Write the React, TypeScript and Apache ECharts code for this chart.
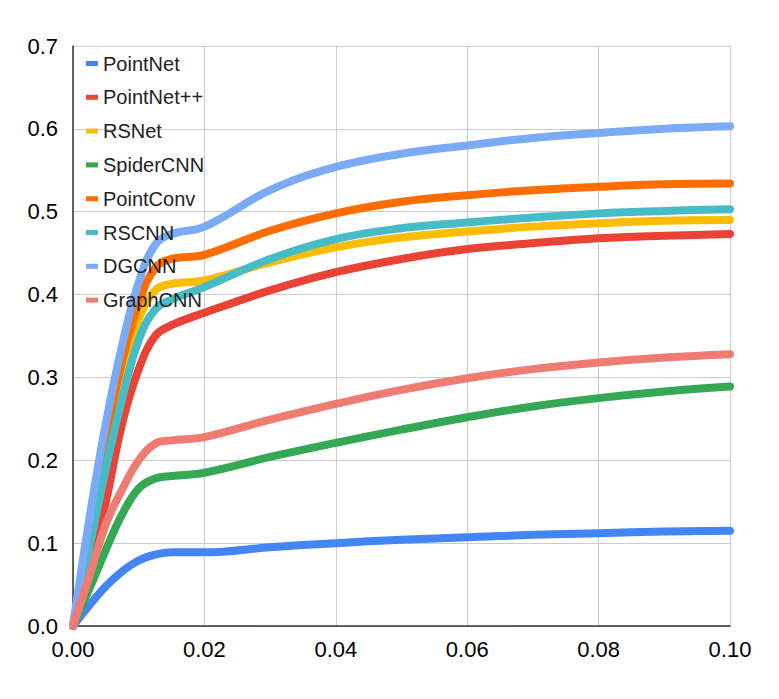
import React, { useEffect, useRef } from "react";
import * as echarts from "echarts";

const xValues = [0, 0.0025, 0.005, 0.0075, 0.01, 0.0125, 0.015, 0.02, 0.03, 0.04, 0.05, 0.06, 0.07, 0.08, 0.09, 0.1];

const seriesNames = ["PointNet", "PointNet++", "RSNet", "SpiderCNN", "PointConv", "RSCNN", "DGCNN", "GraphCNN"];
const seriesColors = ["#4285F4", "#EA4335", "#FBBC04", "#34A853", "#FF6D01", "#46BDC6", "#7BAAF7", "#F07B72"];

const pointNet = [0, 0.025, 0.048, 0.066, 0.079, 0.086, 0.089, 0.089, 0.095, 0.1, 0.104, 0.107, 0.11, 0.112, 0.114, 0.115];
const pointNetPP = [0, 0.07, 0.15, 0.245, 0.31, 0.35, 0.363, 0.378, 0.405, 0.427, 0.443, 0.455, 0.462, 0.468, 0.471, 0.473];
const rsNet = [0, 0.105, 0.21, 0.3, 0.37, 0.405, 0.413, 0.417, 0.439, 0.457, 0.469, 0.476, 0.482, 0.486, 0.489, 0.49];
const spiderCNN = [0, 0.045, 0.092, 0.135, 0.166, 0.178, 0.181, 0.185, 0.204, 0.221, 0.237, 0.252, 0.265, 0.275, 0.283, 0.289];
const pointConv = [0, 0.115, 0.225, 0.32, 0.39, 0.432, 0.443, 0.448, 0.477, 0.498, 0.512, 0.52, 0.526, 0.53, 0.533, 0.534];
const rsCNN = [0, 0.095, 0.19, 0.275, 0.345, 0.382, 0.394, 0.409, 0.443, 0.467, 0.48, 0.487, 0.493, 0.498, 0.501, 0.503];
const dgCNN = [0, 0.13, 0.245, 0.34, 0.415, 0.46, 0.473, 0.482, 0.526, 0.554, 0.57, 0.58, 0.589, 0.595, 0.6, 0.603];
const graphCNN = [0, 0.06, 0.123, 0.165, 0.2, 0.22, 0.224, 0.228, 0.249, 0.268, 0.285, 0.299, 0.31, 0.318, 0.324, 0.328];

const allValues = [pointNet, pointNetPP, rsNet, spiderCNN, pointConv, rsCNN, dgCNN, graphCNN];

export default function App() {
  const ref = useRef<HTMLDivElement>(null);
  useEffect(() => {
    document.body.style.margin = "0";
    const chart = echarts.init(ref.current!, undefined, { renderer: "svg" });
    const font = "Arial, 'Liberation Sans', sans-serif";
    chart.setOption({
      animation: false,
      backgroundColor: "#ffffff",
      grid: { left: 73, top: 46, right: 49, bottom: 73, containLabel: false },
      legend: {
        orient: "vertical",
        left: 81,
        top: 47,
        itemWidth: 12,
        itemHeight: 5,
        itemGap: 10.8,
        icon: "rect",
        data: seriesNames,
        textStyle: { fontFamily: font, fontSize: 20, color: "#222222", lineHeight: 23, padding: [0, 0, 0, 0] },
      },
      xAxis: {
        type: "value",
        min: 0,
        max: 0.1,
        interval: 0.02,
        axisLine: { show: true, lineStyle: { color: "#333333", width: 1.5 } },
        axisTick: { show: false },
        splitLine: { show: true, lineStyle: { color: "#cccccc", width: 1 } },
        axisLabel: {
          fontFamily: font,
          fontSize: 22,
          color: "#000000",
          margin: 12,
          formatter: (v: number) => v.toFixed(2),
        },
      },
      yAxis: {
        type: "value",
        min: 0,
        max: 0.7,
        interval: 0.1,
        axisLine: { show: true, lineStyle: { color: "#333333", width: 1.5 } },
        axisTick: { show: false },
        splitLine: { show: true, lineStyle: { color: "#cccccc", width: 1 } },
        axisLabel: {
          fontFamily: font,
          fontSize: 22,
          color: "#000000",
          margin: 15,
          formatter: (v: number) => v.toFixed(1),
        },
      },
      series: seriesNames.map((name, i) => ({
        name,
        type: "line",
        smooth: 0.4,
        showSymbol: false,
        color: seriesColors[i],
        lineStyle: { width: 8, color: seriesColors[i], cap: "round", join: "round" },
        data: xValues.map((x, j) => [x, allValues[i][j]]),
      })),
    });
    return () => chart.dispose();
  }, []);
  return <div ref={ref} style={{ width: 779, height: 699 }} />;
}
